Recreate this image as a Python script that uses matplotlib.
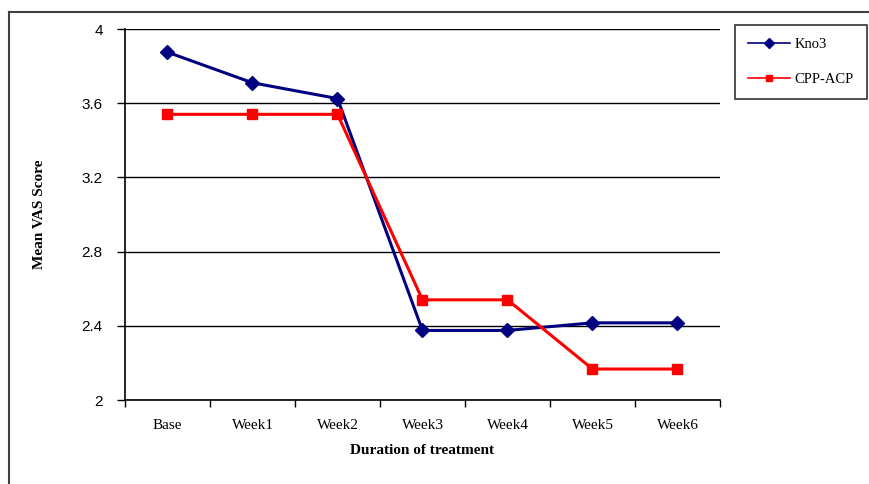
import matplotlib
matplotlib.use('Agg')
import matplotlib.pyplot as plt
from matplotlib.lines import Line2D

# data
weeks = ['Base', 'Week1', 'Week2', 'Week3', 'Week4', 'Week5', 'Week6']
kno3 = [3.875, 3.71, 3.625, 2.375, 2.375, 2.416, 2.416]
cpp_acp = [3.54, 3.54, 3.54, 2.54, 2.54, 2.167, 2.167]
y_ticks = [2, 2.4, 2.8, 3.2, 3.6, 4]
y_labels = ['2', '2.4', '2.8', '3.2', '3.6', '4']

plt.rcParams['font.family'] = ['Liberation Serif', 'DejaVu Serif']

fig = plt.figure(figsize=(8.7, 4.84), dpi=100)
ax = fig.add_axes([125/870, 1 - 400/484, 595/870, 371/484])

x = list(range(len(weeks)))
ax.plot(x, kno3, color='#000080', lw=2.2, marker='D', ms=7, label='Kno3')
ax.plot(x, cpp_acp, color='#ff0000', lw=2.2, marker='s', ms=7, label='CPP-ACP')

ax.set_xlim(-0.5, len(weeks) - 0.5)
ax.set_ylim(2, 4)
ax.set_yticks(y_ticks)
ax.set_yticklabels(y_labels, family=['Liberation Sans', 'DejaVu Sans'], fontsize=11)
ax.set_xticks(x)
ax.set_xticklabels(weeks, fontsize=11)
ax.tick_params(axis='x', length=0, pad=14)
ax.set_xticks([i - 0.5 for i in range(len(weeks) + 1)], minor=True)
ax.tick_params(axis='x', which='minor', length=5, direction='out', width=1)
ax.tick_params(axis='y', length=6, direction='out', width=1, pad=10)

ax.grid(axis='y', color='black', lw=1)
ax.set_axisbelow(True)
for s in ['top', 'right']:
    ax.spines[s].set_visible(False)
ax.spines['left'].set_linewidth(1.2)
ax.spines['bottom'].set_linewidth(1.2)

ax.set_xlabel('Duration of treatment', fontsize=11, fontweight='bold', labelpad=8)
ax.set_ylabel('Mean VAS Score', fontsize=11, fontweight='bold', labelpad=26)

leg = fig.legend(loc='upper left', bbox_to_anchor=(735/870, 1 - 25/484), fontsize=10.5,
                 frameon=True, fancybox=False, edgecolor='black', handlelength=2.9,
                 labelspacing=1.45, borderpad=0.9, markerscale=0.7, handletextpad=0.3,
                 borderaxespad=0)
leg.get_frame().set_linewidth(1.2)
for h in leg.legend_handles:
    h.set_linewidth(1.2)

# outer chart border (clipped at right and bottom)
fig.add_artist(Line2D([9/870, 9/870], [0, 1 - 12/484], color='#404040', lw=1.5))
fig.add_artist(Line2D([9/870, 1], [1 - 12/484, 1 - 12/484], color='#404040', lw=1.5))

fig.savefig('out.png', dpi=100)
